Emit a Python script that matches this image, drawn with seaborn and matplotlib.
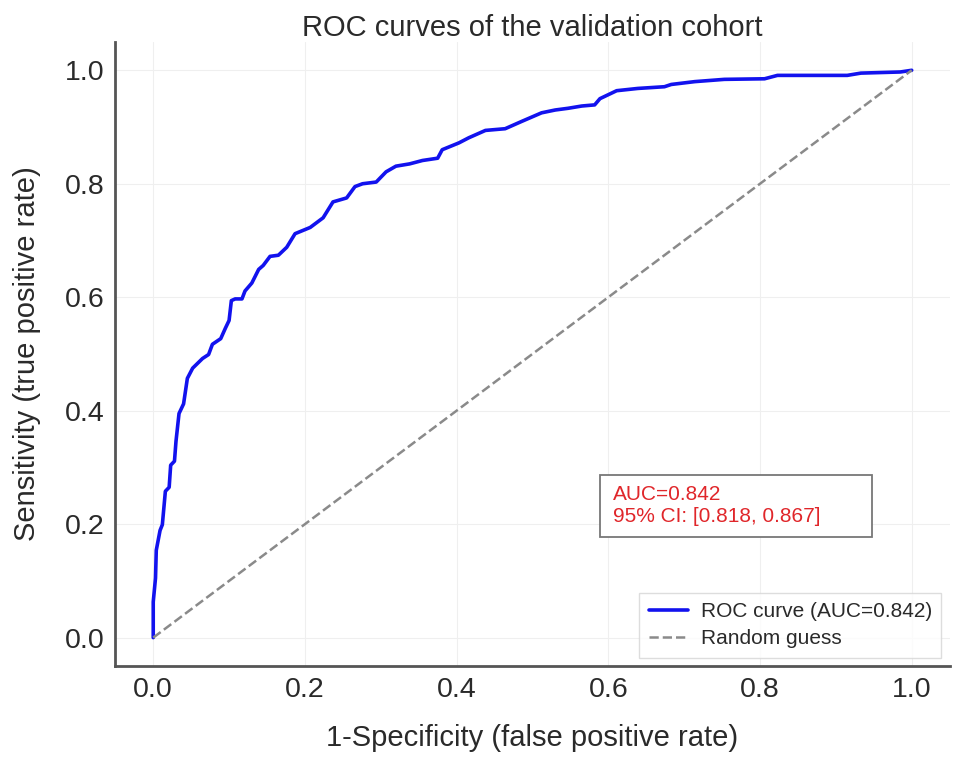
import matplotlib
matplotlib.use("Agg")
import matplotlib.pyplot as plt
from matplotlib.patches import Rectangle
import seaborn as sns
import pandas as pd

# ROC curve points
fpr = [0.000, 0.000, 0.003, 0.004, 0.009, 0.012, 0.016, 0.021, 0.023, 0.028,
       0.030, 0.034, 0.040, 0.045, 0.052, 0.065, 0.073, 0.078, 0.089, 0.095,
       0.100, 0.103, 0.108, 0.117, 0.121, 0.130, 0.139, 0.145, 0.154, 0.165,
       0.176, 0.187, 0.207, 0.224, 0.237, 0.255, 0.266, 0.276, 0.294, 0.307,
       0.320, 0.338, 0.355, 0.375, 0.381, 0.403, 0.416, 0.438, 0.464, 0.486,
       0.512, 0.530, 0.547, 0.565, 0.582, 0.589, 0.611, 0.639, 0.674, 0.683,
       0.714, 0.753, 0.806, 0.823, 0.915, 0.933, 0.985, 1.000]
tpr = [0.000, 0.063, 0.105, 0.154, 0.189, 0.199, 0.258, 0.265, 0.304, 0.311,
       0.346, 0.395, 0.412, 0.457, 0.475, 0.492, 0.499, 0.517, 0.527, 0.545,
       0.559, 0.594, 0.597, 0.597, 0.611, 0.625, 0.649, 0.656, 0.672, 0.674,
       0.688, 0.712, 0.723, 0.740, 0.768, 0.775, 0.795, 0.800, 0.803, 0.821,
       0.831, 0.835, 0.841, 0.845, 0.860, 0.872, 0.881, 0.894, 0.897, 0.910,
       0.925, 0.930, 0.933, 0.937, 0.939, 0.950, 0.964, 0.968, 0.971, 0.975,
       0.980, 0.984, 0.985, 0.991, 0.991, 0.995, 0.997, 1.000]
diag = [0.0, 1.0]

auc_value = 0.842
ci_low, ci_high = 0.818, 0.867
title = "ROC curves of the validation cohort"
xlabel = "1-Specificity (false positive rate)"
ylabel = "Sensitivity (true positive rate)"
ticks = [0.0, 0.2, 0.4, 0.6, 0.8, 1.0]

sns.set_style("white")
plt.rcParams['font.family'] = ['Liberation Sans', 'DejaVu Sans']

fig, ax = plt.subplots(figsize=(9.69, 7.62), dpi=100)
fig.subplots_adjust(left=0.119, right=0.980, top=0.945, bottom=0.126)

roc_df = pd.DataFrame({"fpr": fpr, "tpr": tpr})
diag_df = pd.DataFrame({"x": diag, "y": diag})

sns.lineplot(data=roc_df, x="fpr", y="tpr", ax=ax, color="#1212ee", lw=2.6,
             sort=False, estimator=None,
             label=f"ROC curve (AUC={auc_value:.3f})")
sns.lineplot(data=diag_df, x="x", y="y", ax=ax, color="#8a8a8a", lw=1.8,
             linestyle="--", label="Random guess")

ax.set_xlim(-0.05, 1.05)
ax.set_ylim(-0.05, 1.05)
ax.set_xticks(ticks)
ax.set_yticks(ticks)
ax.set_xticklabels([f"{t:.1f}" for t in ticks])
ax.set_yticklabels([f"{t:.1f}" for t in ticks])
ax.grid(True, color="#efefef", lw=0.8)
ax.tick_params(direction="in", length=5, width=1.2, color="#555555",
               labelsize=20.5, labelcolor="#2a2a2a", pad=8)
for s in ["top", "right"]:
    ax.spines[s].set_visible(False)
for s in ["left", "bottom"]:
    ax.spines[s].set_color("#555555")
    ax.spines[s].set_linewidth(2.0)

ax.set_title(title, fontsize=21, color="#2a2a2a", pad=4)
ax.set_xlabel(xlabel, fontsize=21, color="#2a2a2a", labelpad=15)
ax.set_ylabel(ylabel, fontsize=21, color="#2a2a2a", labelpad=17)

# annotation box
ax.add_patch(Rectangle((0.581, 0.207), 0.326, 0.099, transform=ax.transAxes,
                       facecolor="white", edgecolor="#777777", lw=1.3, zorder=4))
ax.text(0.596, 0.257, f"AUC={auc_value:.3f}\n95% CI: [{ci_low:.3f}, {ci_high:.3f}]",
        transform=ax.transAxes, fontsize=15, color="#e0262a", ha="left", va="center",
        linespacing=1.2, zorder=5)

leg = ax.legend(loc="lower right", fontsize=15, frameon=True, fancybox=False,
                edgecolor="#d5d5d5", handlelength=1.9, handletextpad=0.6,
                borderaxespad=0.4, labelspacing=0.4, borderpad=0.45)
leg.get_frame().set_linewidth(1.0)
for t in leg.get_texts():
    t.set_color("#2a2a2a")

fig.savefig("out.png", dpi=100)
